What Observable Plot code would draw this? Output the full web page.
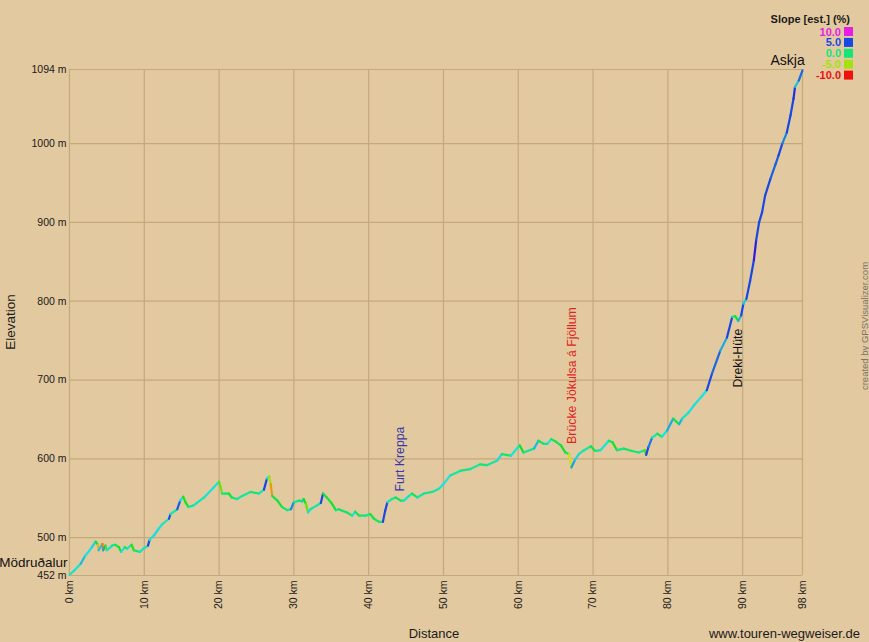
<!DOCTYPE html>
<html>
<head>
<meta charset="utf-8">
<script src="https://cdn.jsdelivr.net/npm/d3@7"></script>
<script src="https://cdn.jsdelivr.net/npm/@observablehq/plot@0.6"></script>
<style>
  html, body { margin: 0; padding: 0; background: #E3C99F; }
  #chart { width: 869px; height: 642px; }
  svg { display: block; }
</style>
</head>
<body>
<div id="chart"></div>
<script>
// ---- data ----
const profileKm = [
  0, 0.6, 1.5, 2.1, 2.6, 3.0, 3.5, 3.8, 3.9, 4.4,
  4.5, 4.8, 5.0, 5.5, 5.7, 6.1, 6.6, 6.9, 7.4, 7.7,
  8.3, 8.6, 9.4, 9.9, 10.5, 10.7, 11.3, 11.9, 12.4, 13.3,
  13.5, 14.4, 14.8, 15.2, 15.5, 15.9, 16.6, 18.0, 19.3, 20.0,
  20.2, 20.4, 20.9, 21.3, 21.7, 22.4, 23.1, 24.2, 25.3, 26.0,
  26.4, 26.7, 26.9, 27.1, 27.8, 28.4, 29.1, 29.6, 30.0, 30.7,
  31.1, 31.3, 31.6, 31.9, 32.2, 33.1, 33.6, 33.9, 34.4, 35.1,
  35.6, 36.0, 36.5, 37.1, 37.8, 38.2, 38.7, 39.6, 40.2, 40.7,
  41.4, 41.9, 42.2, 42.5, 43.1, 43.6, 44.3, 44.7, 45.4, 45.8,
  46.5, 47.4, 48.5, 49.4, 50.0, 50.9, 52.3, 53.6, 54.9, 55.8,
  57.2, 57.8, 59.0, 59.9, 60.2, 60.7, 62.1, 62.7, 63.4, 63.9,
  64.4, 65.0, 65.7, 66.3, 66.8, 67.1, 67.6, 68.1, 68.8, 69.7,
  70.3, 71.0, 72.1, 72.6, 73.2, 74.1, 75.2, 76.1, 76.9, 77.1,
  77.4, 77.9, 78.6, 79.2, 79.9, 80.7, 81.5, 81.9, 82.8, 83.5,
  84.6, 85.2, 85.9, 87.0, 87.9, 88.6, 89.0, 89.4, 89.8, 90.1,
  90.5, 91.0, 91.5, 91.8, 92.2, 92.6, 93.0, 93.7, 94.4, 94.8,
  95.3, 95.9, 96.4, 96.8, 97.0, 97.5, 98.0
];
const profileElev = [
  453, 458, 467, 477, 483, 488, 495, 491, 484, 492,
  484, 490, 484, 488, 490, 491, 488, 482, 488, 486,
  491, 484, 482, 486, 490, 497, 503, 511, 517, 524,
  530, 536, 547, 552, 545, 539, 541, 551, 564, 571,
  564, 556, 556, 556, 551, 549, 553, 558, 556, 561,
  575, 578, 568, 553, 547, 539, 535, 536, 545, 547,
  546, 549, 543, 532, 536, 541, 544, 556, 551, 543,
  535, 536, 534, 532, 528, 533, 528, 528, 530, 524,
  520, 520, 534, 545, 549, 551, 547, 547, 553, 556,
  551, 556, 558, 562, 568, 579, 585, 587, 593, 592,
  598, 606, 604, 614, 617, 608, 613, 623, 619, 619,
  625, 622, 617, 608, 606, 589, 599, 606, 611, 616,
  610, 611, 623, 621, 611, 613, 610, 608, 611, 605,
  615, 627, 632, 628, 636, 651, 644, 651, 659, 668,
  680, 687, 708, 737, 754, 780, 781, 775, 782, 797,
  803, 826, 852, 877, 900, 913, 934, 955, 974, 985,
  1000, 1014, 1036, 1057, 1072, 1080, 1093
];

const xTicks = [0, 10, 20, 30, 40, 50, 60, 70, 80, 90, 98];
const yTicks = [452, 500, 600, 700, 800, 900, 1000, 1094];

const placeNames = ["Mödruðalur", "Furt Kreppa", "Brücke Jökulsa á Fjöllum", "Dreki-Hüte", "Askja"];
const placeKm    = [0, 44.25, 67.2, 89.45, 96.0];
const placeElev  = [468.5, 558.6, 619, 690.5, 1105.4];
const placeColor = ["#111111", "#3838a8", "#e42424", "#111111", "#111111"];
const placeRotated = [false, true, true, true, false];

const legendValues = ["10.0", "5.0", "0.0", "-5.0", "-10.0"];
const legendColors = ["#e41ee4", "#1848e4", "#12e676", "#a6e010", "#f01010"];

// ---- build tables ----
const segments = profileKm.slice(0, -1).map((k, i) => {
  const dk = profileKm[i + 1] - k;
  const de = profileElev[i + 1] - profileElev[i];
  return {
    x1: k, y1: profileElev[i],
    x2: profileKm[i + 1], y2: profileElev[i + 1],
    slope: de / (dk * 1000) * 100
  };
});
const places = placeNames.map((n, i) => ({
  name: n, km: placeKm[i], elev: placeElev[i], color: placeColor[i], rotated: placeRotated[i]
}));

const FONT = "'Liberation Sans', Arial, Helvetica, sans-serif";
const GRID = "#C6A87B";

const svg = Plot.plot({
  width: 869,
  height: 642,
  marginLeft: 69,
  marginRight: 67,
  marginTop: 69,
  marginBottom: 67,
  style: { background: "transparent", fontFamily: FONT, fontSize: "10.5px", color: "#1a1a1a", overflow: "visible" },
  x: {
    domain: [0, 98], ticks: xTicks, tickFormat: d => d + " km",
    tickRotate: -90, tickSize: 0, tickPadding: 5, label: null
  },
  y: {
    domain: [452, 1094], ticks: yTicks, tickFormat: d => d + " m",
    tickSize: 0, tickPadding: 3, label: null
  },
  color: {
    type: "linear",
    domain: [-10, -5, 0, 3, 7, 12],
    range: ["#f01010", "#a6e010", "#12e676", "#1848e4", "#1848e4", "#e41ee4"],
    interpolate: "hsl",
    clamp: true
  },
  marks: [
    Plot.ruleX(xTicks, { stroke: GRID, strokeWidth: 1.2, strokeOpacity: 1 }),
    Plot.ruleY(yTicks, { stroke: GRID, strokeWidth: 1.2, strokeOpacity: 1 }),
    Plot.link(segments, {
      x1: "x1", y1: "y1", x2: "x2", y2: "y2",
      stroke: "slope", strokeWidth: 2.2, strokeLinecap: "round"
    }),
    Plot.text(places.filter(p => p.rotated), {
      x: "km", y: "elev", text: "name", fill: "color",
      rotate: -90, textAnchor: "start", fontSize: 12.3, clip: false
    }),
    Plot.text(places.filter(p => !p.rotated && p.km === 0), {
      x: "km", y: "elev", text: "name", fill: "color",
      textAnchor: "end", dx: -2, fontSize: 13.5
    }),
    Plot.text(places.filter(p => !p.rotated && p.km > 0), {
      x: "km", y: "elev", text: "name", fill: "color",
      textAnchor: "middle", fontSize: 14
    })
  ]
});

document.getElementById("chart").appendChild(svg);

// ---- titles, credits, legend ----
const s = d3.select(svg);
s.append("text").attr("transform", "translate(10,322) rotate(-90)")
  .attr("text-anchor", "middle").attr("dominant-baseline", "central")
  .attr("font-family", FONT).attr("font-size", 13.5).attr("fill", "#1a1a1a").text("Elevation");
s.append("text").attr("x", 434).attr("y", 633)
  .attr("text-anchor", "middle").attr("dominant-baseline", "central")
  .attr("font-family", FONT).attr("font-size", 13).attr("fill", "#1a1a1a").text("Distance");
s.append("text").attr("x", 860).attr("y", 633)
  .attr("text-anchor", "end").attr("dominant-baseline", "central")
  .attr("font-family", FONT).attr("font-size", 13).attr("fill", "#1a1a1a").text("www.touren-wegweiser.de");
s.append("text").attr("transform", "translate(864,326) rotate(-90)")
  .attr("text-anchor", "middle").attr("dominant-baseline", "central")
  .attr("font-family", FONT).attr("font-size", 9.5).attr("fill", "#7c7468").text("created by GPSVisualizer.com");

s.append("text").attr("x", 850).attr("y", 18.5)
  .attr("text-anchor", "end").attr("dominant-baseline", "central")
  .attr("font-family", FONT).attr("font-size", 11).attr("font-weight", "bold")
  .attr("fill", "#1a1a1a").text("Slope [est.] (%)");
const lg = s.append("g");
legendValues.forEach((v, i) => {
  const cy = 31.5 + i * 10.9;
  lg.append("text").attr("x", 841).attr("y", cy)
    .attr("text-anchor", "end").attr("dominant-baseline", "central")
    .attr("font-family", FONT).attr("font-size", 11).attr("font-weight", "bold")
    .attr("fill", legendColors[i]).text(v);
  lg.append("rect").attr("x", 844).attr("y", cy - 4.5).attr("width", 9).attr("height", 9)
    .attr("fill", legendColors[i]);
});
</script>
</body>
</html>
